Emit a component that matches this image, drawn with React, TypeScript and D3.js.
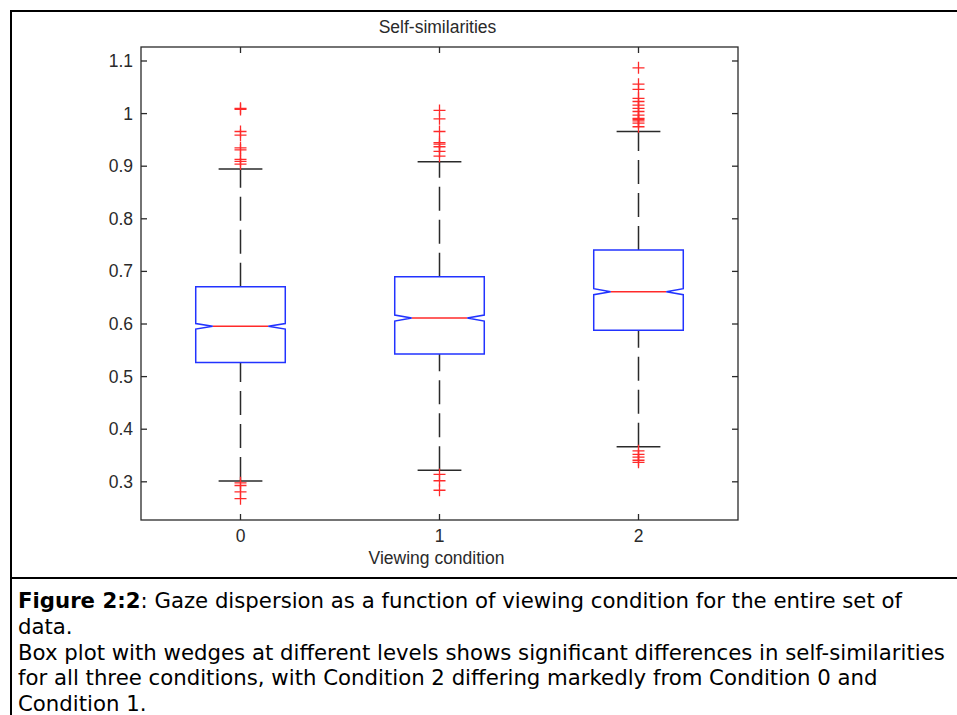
import React from "react";
import * as d3 from "d3";

const categories = ["0", "1", "2"];
const q1Values = [0.527, 0.543, 0.588];
const medianValues = [0.5956, 0.6114, 0.6614];
const q3Values = [0.671, 0.69, 0.7407];
const notchLowValues = [0.5903, 0.6057, 0.6557];
const notchHighValues = [0.6009, 0.6171, 0.6671];
const whiskerLowValues = [0.3015, 0.3219, 0.3667];
const whiskerHighValues = [0.8947, 0.9086, 0.966];
const outliers0 = [1.01, 1.008, 0.966, 0.959, 0.935, 0.931, 0.913, 0.909, 0.904, 0.298, 0.293, 0.281, 0.268];
const outliers1 = [1.006, 0.99, 0.966, 0.945, 0.942, 0.937, 0.928, 0.919, 0.314, 0.302, 0.284];
const outliers2 = [1.087, 1.056, 1.046, 1.029, 1.023, 1.016, 1.01, 1.004, 0.997, 0.991, 0.989, 0.986, 0.982, 0.975, 0.359, 0.352, 0.347, 0.341, 0.337];
const outlierSets = [outliers0, outliers1, outliers2];
const yTicks = [0.3, 0.4, 0.5, 0.6, 0.7, 0.8, 0.9, 1.0, 1.1];
const yTickLabels = ["0.3", "0.4", "0.5", "0.6", "0.7", "0.8", "0.9", "1", "1.1"];
const titleText = "Self-similarities";
const xLabelText = "Viewing condition";
const captionBold = "Figure 2:2";
const captionLines = [
  ": Gaze dispersion as a function of viewing condition for the entire set of",
  "data.",
  "Box plot with wedges at different levels shows significant differences in self-similarities",
  "for all three conditions, with Condition 2 differing markedly from Condition 0 and",
  "Condition 1.",
];

const W = 957;
const H = 715;
const plot = { left: 141, right: 738, top: 47, bottom: 520 };

export default function App() {
  const x = d3.scaleLinear().domain([-0.5, 2.5]).range([plot.left, plot.right]);
  const y = d3.scaleLinear().domain([0.2274, 1.1266]).range([plot.bottom, plot.top]);
  const boxHalf = 0.225;
  const capHalf = 0.11;
  const inset = 17;
  const tick = 6;
  const axisColor = "#2a2a2a";
  const plotFont = "'Liberation Sans', Arial, sans-serif";
  const blue = "#2233ff";
  const red = "#ff2a2a";

  return (
    <svg
      width={W}
      height={H}
      style={{ position: "absolute", left: 0, top: 0, background: "#fff" }}
    >
      <rect x={0} y={0} width={W} height={H} fill="#fff" />
      {/* outer frame */}
      <line x1={10} y1={11} x2={W} y2={11} stroke="#000" strokeWidth={2} />
      <line x1={11} y1={10} x2={11} y2={H} stroke="#000" strokeWidth={2} />
      <line x1={10} y1={578} x2={W} y2={578} stroke="#000" strokeWidth={2} />

      {/* title */}
      <text
        x={(plot.left + plot.right) / 2 - 2}
        y={33}
        textAnchor="middle"
        fontFamily={plotFont}
        fontSize={17.5}
        fill={axisColor}
      >
        {titleText}
      </text>

      {/* axes box */}
      <rect
        x={plot.left}
        y={plot.top}
        width={plot.right - plot.left}
        height={plot.bottom - plot.top}
        fill="none"
        stroke={axisColor}
        strokeWidth={1.3}
      />

      {/* y ticks */}
      {yTicks.map((v, i) => (
        <g key={"yt" + i}>
          <line x1={plot.left} x2={plot.left + tick} y1={y(v)} y2={y(v)} stroke={axisColor} strokeWidth={1.3} />
          <line x1={plot.right} x2={plot.right - tick} y1={y(v)} y2={y(v)} stroke={axisColor} strokeWidth={1.3} />
          <text
            x={plot.left - 8}
            y={y(v) + 6}
            textAnchor="end"
            fontFamily={plotFont}
            fontSize={17.5}
            fill={axisColor}
          >
            {yTickLabels[i]}
          </text>
        </g>
      ))}

      {/* x ticks */}
      {categories.map((c, i) => (
        <g key={"xt" + i}>
          <line x1={x(i)} x2={x(i)} y1={plot.bottom} y2={plot.bottom - tick} stroke={axisColor} strokeWidth={1.3} />
          <line x1={x(i)} x2={x(i)} y1={plot.top} y2={plot.top + tick} stroke={axisColor} strokeWidth={1.3} />
          <text
            x={x(i)}
            y={542}
            textAnchor="middle"
            fontFamily={plotFont}
            fontSize={17.5}
            fill={axisColor}
          >
            {c}
          </text>
        </g>
      ))}

      <text
        x={(plot.left + plot.right) / 2 - 3}
        y={564}
        textAnchor="middle"
        fontFamily={plotFont}
        fontSize={17.5}
        fill={axisColor}
      >
        {xLabelText}
      </text>

      {/* boxes */}
      {categories.map((c, i) => {
        const cx = x(i);
        const L = x(i - boxHalf);
        const R = x(i + boxHalf);
        const cL = x(i - capHalf);
        const cR = x(i + capHalf);
        const yq1 = y(q1Values[i]);
        const yq3 = y(q3Values[i]);
        const ym = y(medianValues[i]);
        const ynl = y(notchLowValues[i]);
        const ynh = y(notchHighValues[i]);
        const ywl = y(whiskerLowValues[i]);
        const ywh = y(whiskerHighValues[i]);
        const path = [
          `M${L},${yq3}`,
          `H${R}`,
          `V${ynh}`,
          `L${R - inset},${ym}`,
          `L${R},${ynl}`,
          `V${yq1}`,
          `H${L}`,
          `V${ynl}`,
          `L${L + inset},${ym}`,
          `L${L},${ynh}`,
          "Z",
        ].join(" ");
        return (
          <g key={"box" + i}>
            <line x1={cx} x2={cx} y1={yq3} y2={ywh} stroke={axisColor} strokeWidth={1.5} strokeDasharray="24 9" />
            <line x1={cx} x2={cx} y1={ywl} y2={yq1} stroke={axisColor} strokeWidth={1.5} strokeDasharray="24 9" />
            <line x1={cL} x2={cR} y1={ywh} y2={ywh} stroke={axisColor} strokeWidth={1.5} />
            <line x1={cL} x2={cR} y1={ywl} y2={ywl} stroke={axisColor} strokeWidth={1.5} />
            <line x1={L + inset} x2={R - inset} y1={ym} y2={ym} stroke={red} strokeWidth={1.4} />
            <path d={path} fill="none" stroke={blue} strokeWidth={1.5} />
            {outlierSets[i].map((v, k) => (
              <path
                key={"o" + k}
                d={`M${cx - 6},${y(v)} H${cx + 6} M${cx},${y(v) - 6} V${y(v) + 6}`}
                stroke={red}
                strokeWidth={1.3}
                fill="none"
              />
            ))}
          </g>
        );
      })}

      {/* caption */}
      <g fontFamily="'DejaVu Sans', Verdana, sans-serif" fontSize={21.25} fill="#000">
        <text x={18} y={608}>
          <tspan fontWeight="bold">{captionBold}</tspan>
          <tspan>{captionLines[0]}</tspan>
        </text>
        {captionLines.slice(1).map((line, i) => (
          <text key={"cap" + i} x={18} y={608 + 25.8 * (i + 1)}>
            {line}
          </text>
        ))}
      </g>
    </svg>
  );
}
